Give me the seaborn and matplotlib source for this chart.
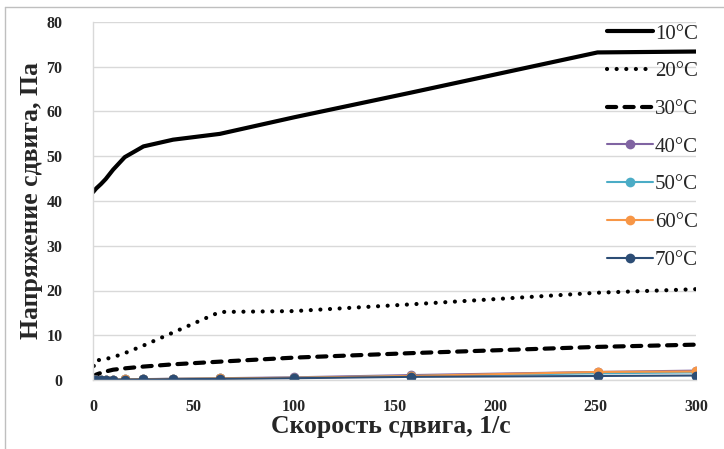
import matplotlib
matplotlib.use("Agg")
import matplotlib.pyplot as plt
from matplotlib.lines import Line2D
import seaborn as sns
import pandas as pd

# Shear rate points (1/s)
shear_rate = [0.1, 0.25, 0.63, 1.58, 3.98, 6.31, 10, 15.8, 25.1, 39.8, 63.1, 100, 158, 251, 300]

# Shear stress (Pa) at each temperature
stress_10 = [42.0, 42.1, 42.3, 42.8, 43.8, 44.9, 47.0, 49.8, 52.2, 53.7, 55.0, 58.7, 64.2, 73.2, 73.4]
stress_20 = [1.0, 2.5, 4.2, 4.4, 4.5, 4.7, 5.1, 6.0, 7.7, 10.6, 15.2, 15.4, 16.9, 19.5, 20.3]
stress_30 = [0.3, 0.6, 0.9, 1.2, 1.6, 1.9, 2.3, 2.6, 3.0, 3.5, 4.1, 5.0, 6.0, 7.4, 7.9]
stress_40 = [0.02, 0.03, 0.04, 0.05, 0.07, 0.09, 0.11, 0.14, 0.2, 0.28, 0.4, 0.6, 1.1, 1.8, 2.1]
stress_50 = [0.02, 0.03, 0.04, 0.05, 0.06, 0.08, 0.1, 0.13, 0.18, 0.25, 0.35, 0.5, 0.9, 1.5, 1.7]
stress_60 = [0.02, 0.03, 0.04, 0.05, 0.06, 0.08, 0.1, 0.13, 0.18, 0.25, 0.35, 0.5, 0.9, 1.8, 1.9]
stress_70 = [0.01, 0.02, 0.03, 0.04, 0.05, 0.06, 0.08, 0.1, 0.13, 0.18, 0.25, 0.4, 0.7, 0.9, 1.0]

labels = ["10°C", "20°C", "30°C", "40°C", "50°C", "60°C", "70°C"]
x_ticks = [0, 50, 100, 150, 200, 250, 300]
y_ticks = [0, 10, 20, 30, 40, 50, 60, 70, 80]

sns.set_theme(style="white")
plt.rcParams["font.family"] = ["Liberation Serif", "DejaVu Serif"]

fig = plt.figure(figsize=(7.24, 4.49), dpi=100)
ax = fig.add_axes([93 / 724, 1 - 380 / 449, 603 / 724, 358 / 449])

series = [stress_10, stress_20, stress_30, stress_40, stress_50, stress_60, stress_70]
styles = [
    dict(color="black", lw=3.0, linestyle="-", solid_capstyle="round"),
    dict(color="black", lw=3.0, linestyle=(0, (0.01, 2.3)), dash_capstyle="round"),
    dict(color="black", lw=3.0, linestyle=(0, (2.2, 2.0)), dash_capstyle="round"),
    dict(color="#8064A2", lw=1.5, marker="o", markersize=7),
    dict(color="#4BACC6", lw=1.5, marker="o", markersize=7),
    dict(color="#F79646", lw=1.5, marker="o", markersize=7),
    dict(color="#2C4D75", lw=1.5, marker="o", markersize=7),
]

for vals, lab, st in zip(series, labels, styles):
    df = pd.DataFrame({"rate": shear_rate, "stress": vals})
    sns.lineplot(data=df, x="rate", y="stress", ax=ax, label=lab,
                 markeredgewidth=0, sort=False, **st)

ax.set_xlim(0, 300)
ax.set_ylim(0, 80)
ax.set_xticks(x_ticks)
ax.set_yticks(y_ticks)
ax.tick_params(axis="both", length=0, labelsize=11.5)
ax.tick_params(axis="y", pad=22)
ax.tick_params(axis="x", pad=14)
for t in ax.get_xticklabels() + ax.get_yticklabels():
    t.set_fontweight("bold")

ax.grid(axis="y", color="#d9d9d9", lw=1.0)
ax.set_axisbelow(True)
for side in ["top", "right"]:
    ax.spines[side].set_visible(False)
for side in ["left", "bottom"]:
    ax.spines[side].set_color("#d9d9d9")
    ax.spines[side].set_linewidth(1.0)

ax.set_xlabel("Скорость сдвига, 1/с", fontsize=18.5, fontweight="bold")
ax.set_ylabel("Напряжение сдвига, Па", fontsize=18.5, fontweight="bold")
ax.xaxis.set_label_coords((391 - 93) / 603, (380 - 426) / 358)
ax.xaxis.label.set_va("center")
ax.yaxis.set_label_coords((32 - 93) / 603, 0.5)
ax.yaxis.label.set_va("center")

leg = ax.legend(loc="upper right", bbox_to_anchor=(698 / 724, 1 - 24 / 449),
                bbox_transform=fig.transFigure, frameon=False, fontsize=15,
                handlelength=2.2, handletextpad=0.12, labelspacing=0.87,
                borderpad=0, borderaxespad=0)

# thin frame around the chart area
fig.add_artist(Line2D([5 / 724, 5 / 724], [0, 1 - 7 / 449], color="#bfbfbf", lw=1))
fig.add_artist(Line2D([5 / 724, 1], [1 - 7 / 449, 1 - 7 / 449], color="#bfbfbf", lw=1))

fig.savefig("out.png", dpi=100)
